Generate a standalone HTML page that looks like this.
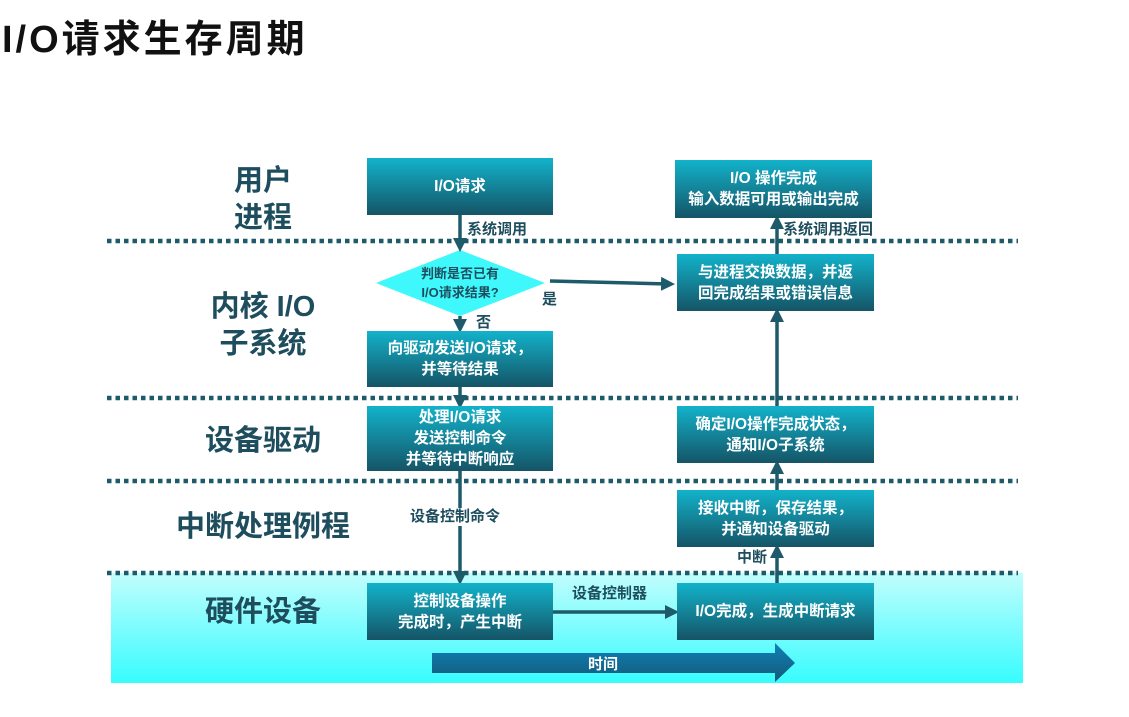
<!DOCTYPE html>
<html><head><meta charset="utf-8"><style>
body{margin:0;width:1129px;height:717px;background:#fff;position:relative;overflow:hidden;font-family:"Liberation Sans","Noto Sans CJK SC",sans-serif;}
.a{position:absolute}
.t{font-size:38px;font-weight:bold;color:#111;left:2px;top:8px;letter-spacing:3px}
.lab{position:absolute;color:#1e4e5e;font-weight:bold;font-size:29px;text-align:center;line-height:37px}
.box{position:absolute;background:linear-gradient(#12b3cb,#155466);color:#fff;font-weight:bold;font-size:15.5px;display:flex;align-items:center;justify-content:center;text-align:center;line-height:21px}
.sm{position:absolute;color:#1e4e5e;font-weight:bold;font-size:15px;background:#fff;line-height:18px}
</style></head><body>
<div class="a t">I/O请求生存周期</div>
<div class="a" style="left:111px;top:573px;width:912px;height:110px;background:linear-gradient(#c2fdfd,#37fcfe)"></div>
<svg class="a" style="left:0;top:0" width="1129" height="717">
<defs><marker id="m" markerWidth="4" markerHeight="4" refX="2" refY="2" orient="auto" markerUnits="strokeWidth"><path d="M0,0L4,2L0,4z" fill="#1d5a6a"/></marker></defs>
<g stroke="#1d5a6a" stroke-width="4.5" stroke-dasharray="4.5,4">
<line x1="107" y1="241" x2="1018" y2="241"/><line x1="107" y1="398" x2="1018" y2="398"/>
<line x1="107" y1="481" x2="1018" y2="481"/><line x1="107" y1="573" x2="1018" y2="573"/></g>
<polygon points="460,250 545,283 460,316 376,283" fill="#3ef8fb"/>
<g stroke="#1d5a6a" stroke-width="3.5" fill="none" marker-end="url(#m)">
<line x1="460" y1="215" x2="460" y2="245"/><line x1="460" y1="316" x2="460" y2="326"/>
<line x1="460" y1="387" x2="460" y2="402"/><line x1="460" y1="471" x2="460" y2="578"/>
<line x1="550" y1="281" x2="668" y2="284"/><line x1="553" y1="612" x2="672" y2="612"/>
<line x1="777" y1="583" x2="777" y2="551"/><line x1="777" y1="490" x2="777" y2="467"/>
<line x1="777" y1="406" x2="777" y2="315"/><line x1="777" y1="254" x2="777" y2="222"/>
</g>
<defs><linearGradient id="g" x1="0" y1="0" x2="0" y2="1"><stop offset="0" stop-color="#1080b8"/><stop offset="1" stop-color="#135a78"/></linearGradient></defs>
<polygon points="432,653 775,653 775,643 795,663 775,682 775,673 432,673" fill="url(#g)"/>
<text x="603" y="669" fill="#fff" font-size="15" font-weight="bold" text-anchor="middle" font-family="Liberation Sans,Noto Sans CJK SC,sans-serif">时间</text>
<text x="460" y="278" fill="#1e4e5e" font-size="13" font-weight="bold" text-anchor="middle" font-family="Liberation Sans,Noto Sans CJK SC,sans-serif">判断是否已有</text>
<text x="460" y="297" fill="#1e4e5e" font-size="13" font-weight="bold" text-anchor="middle" font-family="Liberation Sans,Noto Sans CJK SC,sans-serif">I/O请求结果?</text>
</svg>
<div class="lab" style="left:213px;top:163px;width:100px">用户<br>进程</div>
<div class="lab" style="left:193px;top:289px;width:140px">内核 I/O<br>子系统</div>
<div class="lab" style="left:173px;top:423px;width:180px">设备驱动</div>
<div class="lab" style="left:143px;top:509px;width:240px">中断处理例程</div>
<div class="lab" style="left:173px;top:594px;width:180px">硬件设备</div>
<div class="box" style="left:367px;top:158px;width:186px;height:57px">I/O请求</div>
<div class="box" style="left:367px;top:331px;width:186px;height:56px">向驱动发送I/O请求，<br>并等待结果</div>
<div class="box" style="left:367px;top:406px;width:186px;height:65px">处理I/O请求<br>发送控制命令<br>并等待中断响应</div>
<div class="box" style="left:367px;top:583px;width:186px;height:57px">控制设备操作<br>完成时，产生中断</div>
<div class="box" style="left:675px;top:160px;width:197px;height:58px">I/O 操作完成<br>输入数据可用或输出完成</div>
<div class="box" style="left:677px;top:254px;width:197px;height:57px">与进程交换数据，并返<br>回完成结果或错误信息</div>
<div class="box" style="left:677px;top:406px;width:197px;height:57px">确定I/O操作完成状态，<br>通知I/O子系统</div>
<div class="box" style="left:677px;top:490px;width:197px;height:57px">接收中断，保存结果，<br>并通知设备驱动</div>
<div class="box" style="left:677px;top:583px;width:197px;height:57px">I/O完成，生成中断请求</div>
<div class="sm" style="left:467px;top:221px;background:none">系统调用</div>
<div class="sm" style="left:783px;top:221px;background:none">系统调用返回</div>
<div class="sm" style="left:542px;top:291px;background:none">是</div>
<div class="sm" style="left:476px;top:314px;background:none">否</div>
<div class="sm" style="left:410px;top:508px">设备控制命令</div>
<div class="sm" style="left:737px;top:549px;background:none">中断</div>
<div class="sm" style="left:572px;top:585px;background:none">设备控制器</div>
</body></html>
